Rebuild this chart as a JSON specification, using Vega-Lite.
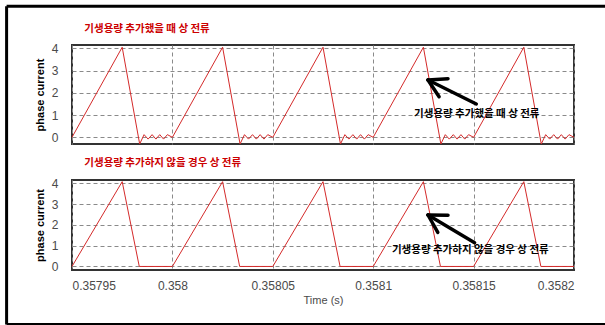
{
  "$schema": "https://vega.github.io/schema/vega-lite/v6.json",
  "padding": {"left": 4, "top": 3, "right": 0, "bottom": 0},
  "background": "white",
  "datasets": {
    "withCap": [
      {"t": 0.35795, "v": 0}, {"t": 0.357975, "v": 4.05}, {"t": 0.3579837, "v": -0.3}, {"t": 0.3579859, "v": 0.12}, {"t": 0.3579879, "v": -0.08}, {"t": 0.3579899, "v": 0.12}, {"t": 0.3579918, "v": -0.08}, {"t": 0.3579937, "v": 0.12}, {"t": 0.3579956, "v": -0.08}, {"t": 0.3579975, "v": 0.12},
      {"t": 0.358, "v": 0}, {"t": 0.358025, "v": 4.05}, {"t": 0.3580337, "v": -0.3}, {"t": 0.3580359, "v": 0.12}, {"t": 0.3580379, "v": -0.08}, {"t": 0.3580399, "v": 0.12}, {"t": 0.3580418, "v": -0.08}, {"t": 0.3580437, "v": 0.12}, {"t": 0.3580456, "v": -0.08}, {"t": 0.3580475, "v": 0.12},
      {"t": 0.35805, "v": 0}, {"t": 0.358075, "v": 4.05}, {"t": 0.3580837, "v": -0.3}, {"t": 0.3580859, "v": 0.12}, {"t": 0.3580879, "v": -0.08}, {"t": 0.3580899, "v": 0.12}, {"t": 0.3580918, "v": -0.08}, {"t": 0.3580937, "v": 0.12}, {"t": 0.3580956, "v": -0.08}, {"t": 0.3580975, "v": 0.12},
      {"t": 0.3581, "v": 0}, {"t": 0.358125, "v": 4.05}, {"t": 0.3581337, "v": -0.3}, {"t": 0.3581359, "v": 0.12}, {"t": 0.3581379, "v": -0.08}, {"t": 0.3581399, "v": 0.12}, {"t": 0.3581418, "v": -0.08}, {"t": 0.3581437, "v": 0.12}, {"t": 0.3581456, "v": -0.08}, {"t": 0.3581475, "v": 0.12},
      {"t": 0.35815, "v": 0}, {"t": 0.358175, "v": 4.05}, {"t": 0.3581837, "v": -0.3}, {"t": 0.3581859, "v": 0.12}, {"t": 0.3581879, "v": -0.08}, {"t": 0.3581899, "v": 0.12}, {"t": 0.3581918, "v": -0.08}, {"t": 0.3581937, "v": 0.12}, {"t": 0.3581956, "v": -0.08}, {"t": 0.3581975, "v": 0.12},
      {"t": 0.3582, "v": 0}
    ],
    "noCap": [
      {"t": 0.35795, "v": 0}, {"t": 0.357975, "v": 4.08}, {"t": 0.3579835, "v": 0},
      {"t": 0.358, "v": 0}, {"t": 0.358025, "v": 4.08}, {"t": 0.3580335, "v": 0},
      {"t": 0.35805, "v": 0}, {"t": 0.358075, "v": 4.08}, {"t": 0.3580835, "v": 0},
      {"t": 0.3581, "v": 0}, {"t": 0.358125, "v": 4.08}, {"t": 0.3581335, "v": 0},
      {"t": 0.35815, "v": 0}, {"t": 0.358175, "v": 4.08}, {"t": 0.3581835, "v": 0},
      {"t": 0.3582, "v": 0}
    ],
    "arrowTop": [
      {"t": 0.35812729, "v": 2.577, "t2": 0.35815134, "v2": 1.498},
      {"t": 0.35812729, "v": 2.577, "t2": 0.35813725, "v2": 2.635},
      {"t": 0.35812729, "v": 2.577, "t2": 0.35813282, "v2": 1.826}
    ],
    "frame": [
      {"t": 0.35791743, "v": 5.89, "t2": 0.35791743, "v2": -8.413},
      {"t": 0.35791743, "v": 5.89, "t2": 0.3582186, "v2": 5.89},
      {"t": 0.35791743, "v": -8.413, "t2": 0.3582186, "v2": -8.413}
    ],
    "arrowBottom": [
      {"t": 0.35812729, "v": 2.476, "t2": 0.3581505, "v2": 1.143},
      {"t": 0.35812729, "v": 2.476, "t2": 0.35813725, "v2": 2.466},
      {"t": 0.35812729, "v": 2.476, "t2": 0.35813217, "v2": 1.639}
    ],
    "noteTop": [{"t": 0.35815159, "v": 1.03, "label": "기생용량 추가했을 때 상 전류"}],
    "noteBottom": [{"t": 0.35814836, "v": 0.778, "label": "기생용량 추가하지 않을 경우 상 전류"}],
    "headTop": [{"t": 0.35795613, "v": 4.874, "label": "기생용량 추가했을 때 상 전류"}],
    "headBottom": [{"t": 0.35795613, "v": 4.954, "label": "기생용량 추가하지 않을 경우 상 전류"}]
  },
  "bounds": "flush",
  "spacing": 36,
  "vconcat": [
    {
      "width": 502,
      "height": 99,
      "encoding": {
        "x": {"field": "t", "type": "quantitative", "scale": {"domain": [0.35795, 0.3582], "nice": false, "zero": false},
              "axis": {"values": [0.35795, 0.358, 0.35805, 0.3581, 0.35815, 0.3582], "labels": false, "ticks": false, "domain": false, "title": null, "grid": true}},
        "y": {"field": "v", "type": "quantitative", "scale": {"domain": [-0.3, 4.15], "nice": false, "zero": false},
              "axis": {"values": [0, 1, 2, 3, 4], "title": "phase current"}}
      },
      "layer": [
        {"data": {"name": "withCap"}, "mark": {"type": "line", "color": "#d42a2a", "strokeWidth": 1}},
        {"data": {"name": "arrowTop"}, "mark": {"type": "rule", "color": "black", "strokeWidth": 3.5, "strokeCap": "round"},
         "encoding": {"x2": {"field": "t2"}, "y2": {"field": "v2"}}},
        {"data": {"name": "noteTop"}, "mark": {"type": "text", "font": "Noto Sans CJK KR", "fontSize": 10.5, "fontWeight": "bold", "color": "black", "align": "center", "baseline": "middle"},
         "encoding": {"text": {"field": "label"}}},
        {"data": {"name": "headTop"}, "mark": {"type": "text", "font": "Noto Sans CJK KR", "fontSize": 10.5, "fontWeight": "bold", "color": "#cc0000", "align": "left", "baseline": "middle", "clip": false},
         "encoding": {"text": {"field": "label"}}},
        {"data": {"name": "frame"}, "mark": {"type": "rule", "color": "black", "strokeWidth": 3, "clip": false},
         "encoding": {"x2": {"field": "t2"}, "y2": {"field": "v2"}}}
      ]
    },
    {
      "width": 502,
      "height": 90,
      "encoding": {
        "x": {"field": "t", "type": "quantitative", "scale": {"domain": [0.35795, 0.3582], "nice": false, "zero": false},
              "axis": {"values": [0.35795, 0.358, 0.35805, 0.3581, 0.35815, 0.3582], "format": ".5~f", "ticks": false, "domain": false, "grid": true, "labelPadding": 10, "title": "Time (s)", "titlePadding": 3}},
        "y": {"field": "v", "type": "quantitative", "scale": {"domain": [-0.17, 4.16], "nice": false, "zero": false},
              "axis": {"values": [0, 1, 2, 3, 4], "title": "phase current"}}
      },
      "layer": [
        {"data": {"name": "noCap"}, "mark": {"type": "line", "color": "#d42a2a", "strokeWidth": 1}},
        {"data": {"name": "arrowBottom"}, "mark": {"type": "rule", "color": "black", "strokeWidth": 3.5, "strokeCap": "round"},
         "encoding": {"x2": {"field": "t2"}, "y2": {"field": "v2"}}},
        {"data": {"name": "noteBottom"}, "mark": {"type": "text", "font": "Noto Sans CJK KR", "fontSize": 10.5, "fontWeight": "bold", "color": "black", "align": "center", "baseline": "middle"},
         "encoding": {"text": {"field": "label"}}},
        {"data": {"name": "headBottom"}, "mark": {"type": "text", "font": "Noto Sans CJK KR", "fontSize": 10.5, "fontWeight": "bold", "color": "#cc0000", "align": "left", "baseline": "middle", "clip": false},
         "encoding": {"text": {"field": "label"}}}
      ]
    }
  ],
  "config": {
    "view": {"stroke": "#333333", "strokeWidth": 2},
    "axis": {
      "gridColor": "#8a8a8a", "gridDash": [4, 3], "gridWidth": 1, "gridOpacity": 1,
      "labelFont": "Liberation Sans", "labelFontSize": 12, "labelColor": "#4a4a4a",
      "titleFont": "Liberation Sans", "titleFontSize": 11, "titleColor": "#4a4a4a", "titleFontWeight": "normal"
    },
    "axisY": {
      "ticks": false, "domain": false, "labelPadding": 14,
      "titleColor": "black", "titleFontWeight": "bold", "titlePadding": 6
    }
  }
}
